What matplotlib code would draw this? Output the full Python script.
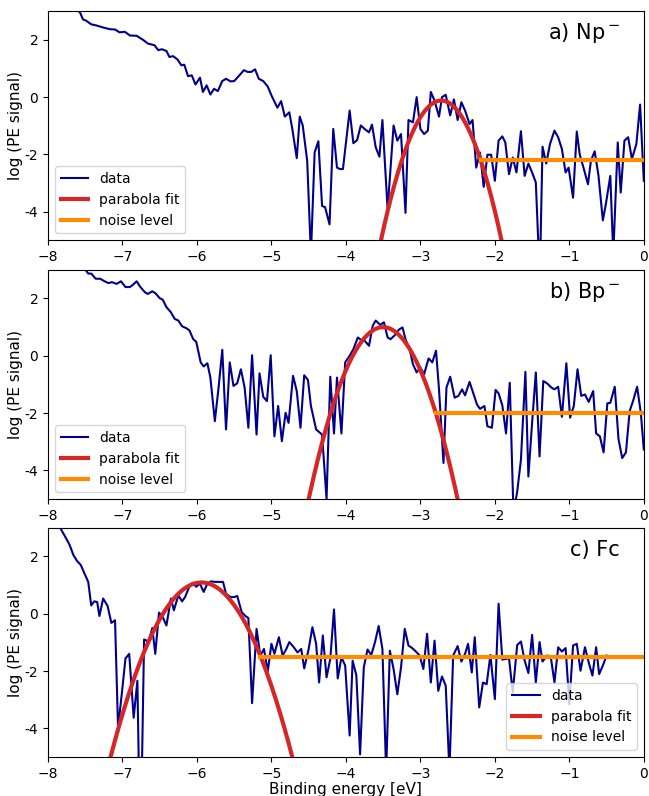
import matplotlib.pyplot as plt
import numpy as np

# panel a) Np-
a_x = [-8.0, -7.8, -7.65, -7.575, -7.53, -7.49, -7.42, -7.35, -7.26, -7.17, -7.10, -7.04, -6.97,
       -6.90, -6.81, -6.72, -6.66, -6.57, -6.52, -6.47, -6.41, -6.37, -6.32, -6.26, -6.21, -6.17,
       -6.12, -6.07, -6.02, -5.96, -5.92, -5.87, -5.82, -5.77, -5.72, -5.66, -5.61, -5.55, -5.50,
       -5.43, -5.37, -5.32, -5.27, -5.22, -5.17, -5.11, -5.05, -5.00, -4.92, -4.87, -4.82, -4.76,
       -4.72, -4.66, -4.62, -4.58, -4.52, -4.47, -4.42, -4.37, -4.32, -4.28, -4.22, -4.17, -4.12,
       -4.08, -4.04, -3.95, -3.90, -3.85, -3.80, -3.75, -3.69, -3.65, -3.60, -3.55, -3.51, -3.44,
       -3.36, -3.31, -3.26, -3.20, -3.16, -3.10, -3.05, -3.00, -2.95, -2.90, -2.86, -2.81, -2.75,
       -2.71, -2.66, -2.60, -2.55, -2.50, -2.45, -2.40, -2.34, -2.30, -2.25, -2.20, -2.15, -2.10,
       -2.05, -2.00, -1.95, -1.90, -1.86, -1.81, -1.76, -1.71, -1.65, -1.60, -1.55, -1.50, -1.45,
       -1.41, -1.39, -1.36, -1.31, -1.26, -1.20, -1.15, -1.10, -1.05, -1.01, -0.95, -0.90, -0.86,
       -0.81, -0.75, -0.71, -0.66, -0.61, -0.55, -0.51, -0.45, -0.41, -0.35, -0.31, -0.26, -0.21,
       -0.16, -0.10, -0.05, 0.0]
a_y = [3.6, 3.3, 3.05, 2.98, 2.71, 2.67, 2.54, 2.50, 2.43, 2.37, 2.36, 2.26, 2.28,
       2.15, 2.14, 1.99, 1.87, 1.81, 1.64, 1.67, 1.61, 1.40, 1.43, 1.31, 1.11, 1.13,
       0.73, 0.76, 0.44, 0.68, 0.18, 0.41, 0.09, 0.29, 0.21, 0.56, 0.64, 0.55, 0.56,
       0.76, 0.94, 0.88, 0.88, 0.97, 0.64, 0.56, 0.37, 0.06, -0.37, -0.14, -0.68, -0.53,
       -1.11, -2.13, -0.68, -0.99, -2.22, -5.5, -1.93, -1.54, -3.80, -3.84, -4.44, -1.11, -2.46,
       -2.51, -2.51, -0.47, -1.61, -1.50, -0.99, -1.11, -1.23, -0.96, -1.75, -2.08, -0.80, -3.92,
       -0.99, -1.52, -1.29, -4.04, -0.80, -0.88, 0.0, -1.11, -1.29, -1.17, 0.18, -0.12, -0.68,
       0.0, 0.08, -0.64, -0.08, -0.80, -0.18, -0.47, -0.94, -0.80, -2.46, -1.93, -3.13, -2.01,
       -2.01, -2.92, -1.52, -1.37, -1.58, -2.69, -2.11, -2.63, -1.19, -2.75, -2.32, -2.63, -2.98,
       -5.5, -5.5, -1.73, -2.32, -1.64, -1.17, -1.40, -1.81, -2.63, -2.46, -3.51, -1.20, -2.01,
       -2.46, -3.04, -2.22, -1.89, -2.71, -4.30, -3.74, -2.75, -5.5, -1.58, -3.33, -1.52, -1.40,
       -2.16, -1.64, -0.26, -2.92]

# panel b) Bp-
b_x = [-8.0, -7.7, -7.52, -7.49, -7.46, -7.42, -7.36, -7.30, -7.24, -7.19, -7.14, -7.08, -7.02,
       -6.96, -6.90, -6.86, -6.81, -6.76, -6.70, -6.66, -6.60, -6.56, -6.50, -6.46, -6.41, -6.35,
       -6.30, -6.25, -6.20, -6.14, -6.10, -6.05, -6.01, -5.95, -5.91, -5.86, -5.82, -5.76, -5.71,
       -5.66, -5.61, -5.56, -5.51, -5.46, -5.41, -5.36, -5.31, -5.26, -5.20, -5.16, -5.11, -5.06,
       -5.01, -4.96, -4.91, -4.86, -4.81, -4.77, -4.71, -4.66, -4.61, -4.56, -4.51, -4.47, -4.40,
       -4.32, -4.26, -4.21, -4.16, -4.12, -4.06, -4.01, -3.95, -3.90, -3.84, -3.80, -3.75, -3.69,
       -3.64, -3.60, -3.54, -3.49, -3.44, -3.40, -3.34, -3.29, -3.24, -3.20, -3.14, -3.10, -3.05,
       -3.00, -2.95, -2.89, -2.84, -2.79, -2.75, -2.69, -2.65, -2.60, -2.54, -2.49, -2.44, -2.40,
       -2.34, -2.30, -2.24, -2.20, -2.14, -2.10, -2.04, -1.99, -1.95, -1.90, -1.85, -1.80, -1.75,
       -1.70, -1.65, -1.59, -1.55, -1.50, -1.45, -1.40, -1.35, -1.30, -1.24, -1.20, -1.15, -1.10,
       -1.04, -0.99, -0.94, -0.89, -0.84, -0.79, -0.74, -0.68, -0.64, -0.59, -0.54, -0.49, -0.45,
       -0.39, -0.34, -0.29, -0.24, -0.19, -0.14, -0.09, -0.04, 0.0]
b_y = [3.8, 3.3, 3.05, 2.98, 2.87, 2.87, 2.69, 2.69, 2.60, 2.54, 2.57, 2.51, 2.60,
       2.40, 2.40, 2.48, 2.60, 2.40, 2.22, 2.16, 2.25, 2.19, 2.01, 1.96, 1.70, 1.52,
       1.29, 1.23, 1.03, 0.96, 0.88, 0.58, 0.49, -0.23, -0.37, -0.26, -0.76, -2.28, -1.11,
       0.21, -2.57, -0.23, -1.05, -0.96, -0.47, -1.11, -2.51, 0.02, -2.75, -0.61, -1.43, -1.58,
       0.02, -2.81, -1.75, -2.98, -1.99, -2.34, -0.70, -1.23, -2.51, -0.68, -0.84, -1.75, -2.57,
       -2.75, -5.0, -0.73, -2.71, -0.76, -2.71, -0.23, 0.0, 0.23, 0.64, 0.56, 0.53, 0.35,
       1.05, 1.23, 1.08, 1.17, 0.64, 0.58, 0.73, 0.91, 0.99, 0.58, 0.18, -0.29, -0.58,
       -0.41, -0.64, -0.09, -0.23, 0.18, -1.17, -3.74, -1.11, -0.73, -1.46, -1.40, -1.17, -1.38,
       -0.91, -1.23, -1.70, -1.85, -1.75, -2.46, -2.51, -1.19, -1.31, -1.73, -2.71, -0.94, -5.5,
       -4.74, -3.63, -0.56, -4.21, -2.34, -0.58, -3.51, -0.88, -0.96, -1.11, -1.17, -1.08, -2.13,
       -0.26, -2.16, -1.75, -0.47, -1.40, -1.35, -1.61, -1.23, -2.71, -2.81, -3.37, -1.66, -1.64,
       -1.08, -2.90, -3.57, -3.37, -1.93, -1.54, -1.08, -1.99, -3.27]

# panel c) Fc
c_x = [-8.0, -7.86, -7.82, -7.77, -7.71, -7.66, -7.61, -7.56, -7.51, -7.46, -7.42, -7.38, -7.34,
       -7.31, -7.26, -7.20, -7.15, -7.10, -7.06, -7.01, -6.96, -6.91, -6.85, -6.80, -6.78, -6.74,
       -6.71, -6.65, -6.60, -6.56, -6.51, -6.46, -6.41, -6.35, -6.31, -6.25, -6.20, -6.16, -6.11,
       -6.06, -6.01, -5.96, -5.91, -5.86, -5.81, -5.76, -5.71, -5.65, -5.61, -5.55, -5.50, -5.46,
       -5.40, -5.35, -5.31, -5.26, -5.20, -5.15, -5.10, -5.05, -5.00, -4.96, -4.90, -4.85, -4.80,
       -4.76, -4.70, -4.65, -4.60, -4.56, -4.50, -4.45, -4.40, -4.36, -4.31, -4.26, -4.21, -4.16,
       -4.11, -4.06, -4.01, -3.95, -3.91, -3.86, -3.81, -3.76, -3.71, -3.66, -3.61, -3.56, -3.51,
       -3.46, -3.41, -3.36, -3.31, -3.26, -3.21, -3.16, -3.11, -3.06, -3.01, -2.96, -2.91, -2.86,
       -2.81, -2.76, -2.71, -2.66, -2.61, -2.56, -2.50, -2.45, -2.40, -2.36, -2.31, -2.27, -2.21,
       -2.16, -2.11, -2.06, -2.00, -1.95, -1.90, -1.85, -1.81, -1.76, -1.70, -1.65, -1.60, -1.55,
       -1.50, -1.45, -1.40, -1.36, -1.30, -1.25, -1.20, -1.15, -1.10, -1.05, -1.00, -0.95, -0.90,
       -0.85, -0.79, -0.74, -0.69, -0.64, -0.60, -0.55, -0.50]
c_y = [3.6, 3.1, 2.92, 2.69, 2.40, 2.05, 1.84, 1.70, 1.40, 1.11, 0.29, 0.43, 0.41,
       -0.08, 0.53, 0.27, -0.32, -0.23, -3.98, -2.81, -1.56, -1.40, -3.63, -2.34, -5.5, -5.5,
       -0.90, -0.97, -0.50, -1.40, 0.04, -0.12, -0.41, 0.53, 0.12, 0.64, 0.43, 0.58, 0.90,
       1.08, 0.94, 1.05, 0.76, 1.05, 1.13, 1.11, 1.11, 1.11, 0.70, 0.58, 0.58, 0.62,
       0.06, -0.08, -0.15, -3.12, -0.53, -1.46, -1.23, -2.02, -1.05, -1.40, -0.82, -1.46, -1.23,
       -0.99, -1.17, -1.35, -1.23, -1.91, -1.23, -0.47, -1.05, -2.40, -0.76, -2.22, -1.58, 0.15,
       -2.26, -1.52, -1.81, -4.25, -1.64, -2.15, -4.91, -1.87, -1.25, -1.44, -1.00, -0.43, -1.23,
       -5.5, -1.29, -1.93, -2.81, -1.87, -0.53, -1.11, -1.20, -1.32, -1.46, -1.93, -0.70, -2.40,
       -0.94, -2.69, -2.19, -2.51, -5.5, -1.46, -1.13, -1.67, -1.40, -1.05, -2.05, -0.82, -3.27,
       -2.40, -2.46, -1.44, -2.98, 0.35, -1.60, -1.58, -1.55, -2.75, -1.09, -0.97, -1.64, -2.07,
       -0.74, -2.40, -0.99, -1.67, -1.46, -1.49, -2.40, -1.17, -1.32, -1.20, -3.16, -1.11, -1.05,
       -1.99, -1.17, -1.70, -2.16, -1.17, -2.11, -1.81, -1.46]

# parabola fits: centre, peak, curvature ; noise level and start
fit_center = [-2.72, -3.50, -5.94]
fit_peak = [-0.12, 1.0, 1.09]
fit_curv = [7.44, 6.0, 4.09]
noise_level = [-2.2, -2.0, -1.5]
noise_start = [-2.19, -2.79, -5.15]

labels = [r'a) Np$^-$', r'b) Bp$^-$', 'c) Fc']
yticks = [-4, -2, 0, 2]
ytick_labels = ['-4', '-2', '0', '2']
xs = [a_x, b_x, c_x]
ys = [a_y, b_y, c_y]
legend_loc = ['lower left', 'lower left', 'lower right']

fig = plt.figure(figsize=(6.49, 7.96), dpi=100)
bottoms = [0.698, 0.373, 0.049]
for i in range(3):
    ax = fig.add_axes([0.074, bottoms[i], 0.918, 0.288])
    ax.plot(xs[i], ys[i], color='darkblue', lw=1.5, label='data')
    xf = np.linspace(fit_center[i] - 1.6, fit_center[i] + 1.6, 300)
    ax.plot(xf, fit_peak[i] - fit_curv[i] * (xf - fit_center[i]) ** 2,
            color='tab:red', lw=3, label='parabola fit')
    ax.plot([noise_start[i], 0], [noise_level[i], noise_level[i]],
            color='darkorange', lw=3, label='noise level')
    ax.set_xlim(-8, 0)
    ax.set_ylim(-5, 3)
    ax.set_yticks(yticks)
    ax.set_yticklabels(ytick_labels)
    ax.set_ylabel('log (PE signal)', fontsize=11)
    ax.yaxis.set_label_coords(-0.042, 0.5)
    ax.tick_params(labelsize=10)
    ax.text(0.96, 0.905, labels[i], transform=ax.transAxes, ha='right', va='center', fontsize=15)
    ax.legend(loc=legend_loc[i], fontsize=10)
    if i == 2:
        ax.set_xlabel('Binding energy [eV]', fontsize=11, labelpad=1)

plt.savefig('out.png', dpi=100)
